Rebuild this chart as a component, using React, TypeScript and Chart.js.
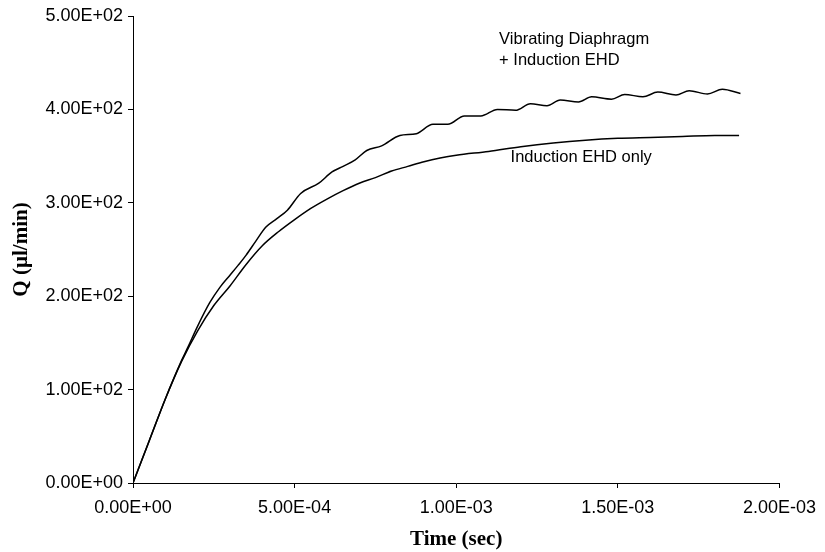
import React, { useEffect, useRef } from "react";
import { Chart, registerables } from "chart.js";

Chart.register(...registerables);

// Induction EHD only
const timeInduction = [
  0, 5e-5, 1e-4, 1.5e-4, 2e-4, 2.5e-4, 3e-4, 3.5e-4, 4e-4, 4.5e-4, 5e-4, 5.5e-4, 6e-4, 6.5e-4, 7e-4,
  7.5e-4, 8e-4, 8.5e-4, 9e-4, 9.5e-4, 1e-3, 1.1e-3, 1.2e-3, 1.3e-3, 1.4e-3, 1.5e-3, 1.6e-3, 1.7e-3,
  1.8e-3, 1.875e-3,
];
const qInduction = [
  0, 45, 90, 130, 163, 190, 211, 234, 254, 269, 282, 294, 304, 313, 321, 327, 334, 339, 344, 348, 351,
  355, 360, 364, 367, 369, 370, 371, 372, 372,
];

// Vibrating Diaphragm + Induction EHD
const timeVibrating = [
  0, 5e-5, 1e-4, 1.5e-4, 1.707e-4, 2e-4, 2.373e-4, 2.7e-4, 2.987e-4, 3.25e-4, 3.5e-4, 3.8e-4, 4.113e-4,
  4.45e-4, 4.776e-4, 5.187e-4, 5.749e-4, 6.157e-4, 6.5e-4, 6.875e-4, 7.231e-4, 7.692e-4, 8.257e-4,
  8.766e-4, 9.279e-4, 9.739e-4, 1.0252e-3, 1.0761e-3, 1.1274e-3, 1.1835e-3, 1.2296e-3, 1.2808e-3,
  1.3217e-3, 1.3782e-3, 1.419e-3, 1.4803e-3, 1.5212e-3, 1.5776e-3, 1.6237e-3, 1.6799e-3, 1.7207e-3,
  1.7772e-3, 1.8232e-3, 1.8794e-3,
];
const qVibrating = [
  0, 45, 90, 131, 146, 168, 193, 210, 222, 233, 244, 259, 274, 283, 292, 310, 321, 333, 339, 346, 356,
  361, 372, 374, 384, 384, 393, 393, 400, 399, 406, 404, 410, 408, 413.5, 411, 416, 413.5, 418.5, 415.5,
  420, 416.5, 421.5, 417,
];

const xTickValues = [0, 5e-4, 1e-3, 1.5e-3, 2e-3];
const xTickLabels = ["0.00E+00", "5.00E-04", "1.00E-03", "1.50E-03", "2.00E-03"];
const yTickValues = [0, 100, 200, 300, 400, 500];
const yTickLabels = ["0.00E+00", "1.00E+02", "2.00E+02", "3.00E+02", "4.00E+02", "5.00E+02"];

const noteTexts = ["Vibrating Diaphragm", "+ Induction EHD", "Induction EHD only"];
const noteTimes = [1.1326e-3, 1.1326e-3, 1.1682e-3];
const noteQs = [469.7, 447.9, 343.7];

const xTitle = "Time (sec)";
const yTitle = "Q (\u00b5l/min)";

const notesPlugin = {
  id: "notes",
  afterDatasetsDraw(chart: any) {
    const { ctx, scales } = chart;
    ctx.save();
    ctx.font = '16.5px "Liberation Sans", Arial, sans-serif';
    ctx.fillStyle = "#000";
    ctx.textAlign = "left";
    ctx.textBaseline = "alphabetic";
    noteTexts.forEach((t, i) => {
      ctx.fillText(t, scales.x.getPixelForValue(noteTimes[i]), scales.y.getPixelForValue(noteQs[i]));
    });
    ctx.restore();
  },
};

export default function App() {
  const ref = useRef<HTMLCanvasElement | null>(null);
  useEffect(() => {
    if (!ref.current) return;
    const tickFont = { family: '"Liberation Sans", Arial, sans-serif', size: 18 };
    const titleFont = { family: '"Liberation Serif", "Times New Roman", serif', size: 21, weight: "bold" as const };
    const chart = new Chart(ref.current, {
      type: "line",
      data: {
        datasets: [
          {
            label: "Vibrating Diaphragm + Induction EHD",
            data: timeVibrating.map((t, i) => ({ x: t, y: qVibrating[i] })),
            borderColor: "#000",
            borderWidth: 1.5,
            pointRadius: 0,
            cubicInterpolationMode: "monotone",
            fill: false,
          },
          {
            label: "Induction EHD only",
            data: timeInduction.map((t, i) => ({ x: t, y: qInduction[i] })),
            borderColor: "#000",
            borderWidth: 1.5,
            pointRadius: 0,
            cubicInterpolationMode: "monotone",
            fill: false,
          },
        ],
      },
      options: {
        animation: false,
        responsive: false,
        maintainAspectRatio: false,
        layout: { padding: { top: 16, right: 41, bottom: 0, left: 0 } },
        plugins: { legend: { display: false }, tooltip: { enabled: false } },
        scales: {
          x: {
            type: "linear",
            min: 0,
            max: 2e-3,
            afterBuildTicks: (s: any) => {
              s.ticks = xTickValues.map((v) => ({ value: v }));
            },
            afterFit: (s: any) => {
              s.height = 69;
            },
            ticks: {
              color: "#000",
              font: tickFont,
              padding: 9,
              maxRotation: 0,
              callback: (v: any) => {
                const i = xTickValues.findIndex((t) => Math.abs(t - Number(v)) < 1e-9);
                return i >= 0 ? xTickLabels[i] : "";
              },
            },
            grid: { display: true, drawOnChartArea: false, drawTicks: true, tickLength: 5, color: "#000", lineWidth: 1 },
            border: { display: true, color: "#000", width: 1 },
            title: { display: true, text: xTitle, color: "#000", font: titleFont, padding: { top: 4, bottom: 0 } },
          },
          y: {
            type: "linear",
            min: 0,
            max: 500,
            afterBuildTicks: (s: any) => {
              s.ticks = yTickValues.map((v) => ({ value: v }));
            },
            afterFit: (s: any) => {
              s.width = 133;
            },
            ticks: {
              color: "#000",
              font: tickFont,
              padding: 5,
              callback: (v: any) => {
                const i = yTickValues.indexOf(Number(v));
                return i >= 0 ? yTickLabels[i] : "";
              },
            },
            grid: { display: true, drawOnChartArea: false, drawTicks: true, tickLength: 5, color: "#000", lineWidth: 1 },
            border: { display: true, color: "#000", width: 1 },
            title: { display: true, text: yTitle, color: "#000", font: titleFont, padding: { top: 9, bottom: 0 } },
          },
        },
      },
      plugins: [notesPlugin],
    });
    return () => chart.destroy();
  }, []);
  return (
    <div style={{ position: "absolute", left: 0, top: 0, width: 825, height: 552, background: "#fff" }}>
      <canvas ref={ref} width={825} height={552} style={{ width: 825, height: 552, display: "block" }} />
    </div>
  );
}
